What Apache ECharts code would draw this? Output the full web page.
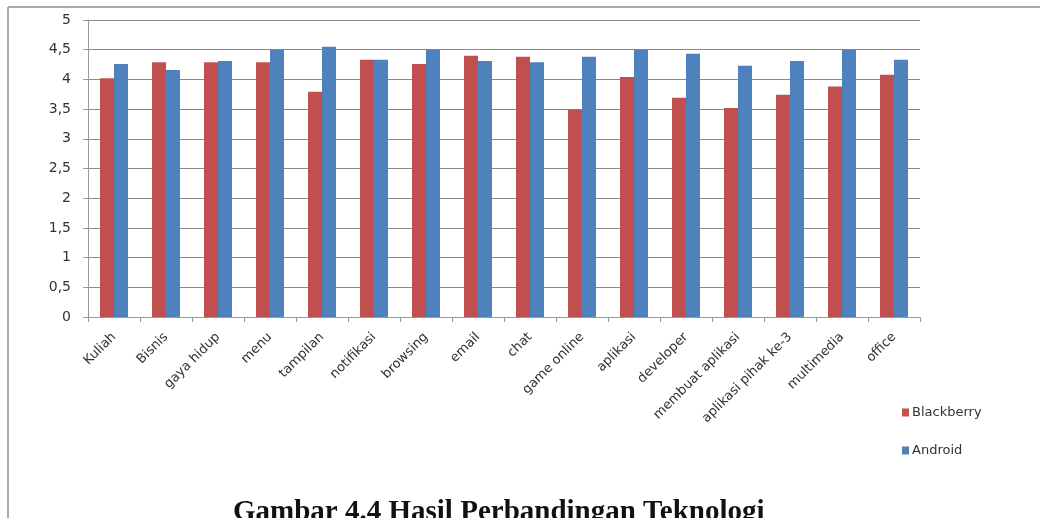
<!DOCTYPE html>
<html><head><meta charset="utf-8">
<script src="https://cdn.jsdelivr.net/npm/echarts@6/dist/echarts.min.js"></script>
<style>html,body{margin:0;padding:0;background:#fff}#c{width:1040px;height:518px}</style>
</head><body><div id="c"></div>
<script>
const categories = ["Kuliah","Bisnis","gaya hidup","menu","tampilan","notifikasi","browsing","email","chat","game online","aplikasi","developer","membuat aplikasi","aplikasi pihak ke-3","multimedia","office"];
const blackberry = [4.02,4.29,4.29,4.29,3.79,4.33,4.26,4.40,4.38,3.49,4.04,3.69,3.52,3.74,3.88,4.08];
const android   = [4.26,4.16,4.31,4.50,4.55,4.33,4.50,4.31,4.29,4.38,4.50,4.43,4.23,4.31,4.50,4.33];
const yTicks = [0,0.5,1,1.5,2,2.5,3,3.5,4,4.5,5];
const title = "Gambar 4.4 Hasil Perbandingan Teknologi";

const chart = echarts.init(document.getElementById('c'));
chart.setOption({
  animation:false,
  backgroundColor:'#fff',
  textStyle:{fontFamily:'DejaVu Sans'},
  title:{text:title,left:228,top:493,
    textStyle:{fontFamily:'Liberation Serif',fontWeight:'bold',fontSize:29,color:'#111'}},
  legend:{orient:'vertical',left:897,top:401,itemWidth:7,itemHeight:8,itemGap:25,
    icon:'rect',textStyle:{fontSize:13,color:'#333',padding:[0,0,0,-2]},
    data:['Blackberry','Android']},
  grid:{left:88,right:120,top:20,height:297},
  xAxis:{type:'category',data:categories,
    axisLine:{lineStyle:{color:'#999'}},
    axisTick:{show:true,length:5,lineStyle:{color:'#999'}},
    axisLabel:{rotate:45,fontSize:13,color:'#333',margin:18,interval:0}},
  yAxis:{type:'value',min:0,max:5,interval:0.5,
    axisLine:{show:true,lineStyle:{color:'#999'}},
    axisTick:{show:true,length:5,lineStyle:{color:'#999'}},
    splitLine:{lineStyle:{color:'#8a8a8a',width:1}},
    axisLabel:{fontSize:14,color:'#333',margin:17,
      formatter:v=>{const t=yTicks.find(x=>Math.abs(x-v)<1e-9);return String(t).replace('.',',');}}},
  series:[
    {name:'Blackberry',type:'bar',data:blackberry,barWidth:14,barGap:'0%',itemStyle:{color:'#C0504D'}},
    {name:'Android',type:'bar',data:android,barWidth:14,itemStyle:{color:'#4F81BD'}}
  ],
  graphic:[
    {type:'line',shape:{x1:8,y1:7,x2:1040,y2:7},style:{stroke:'#aaa',lineWidth:2}},
    {type:'line',shape:{x1:8,y1:7,x2:8,y2:518},style:{stroke:'#aaa',lineWidth:2}}
  ]
});
</script></body></html>
